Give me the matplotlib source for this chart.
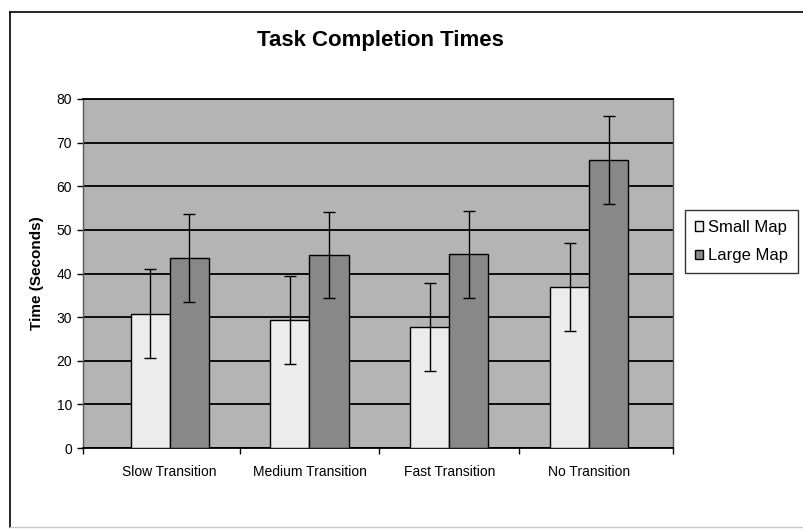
import numpy as np
import matplotlib
matplotlib.use('agg')
import matplotlib.pyplot as plt
from matplotlib.lines import Line2D
from matplotlib.patches import Patch

categories = ['Slow Transition', 'Medium Transition', 'Fast Transition', 'No Transition']
small_map = [30.8, 29.3, 27.8, 36.9]
small_err = [10.2, 10.1, 10.1, 10.1]
large_map = [43.5, 44.3, 44.4, 66.0]
large_err = [10.1, 9.9, 10.0, 10.0]
yticks = [0, 10, 20, 30, 40, 50, 60, 70, 80]

plt.rcParams['font.family'] = ['Liberation Sans', 'DejaVu Sans']

W, H = 804, 529
fig = plt.figure(figsize=(W / 100, H / 100), dpi=100)

def px(x0, y0, x1, y1):
    return [x0 / W, 1 - y1 / H, (x1 - x0) / W, (y1 - y0) / H]

# outer chart border
fig.add_artist(Line2D([10 / W, 10 / W], [1 - 12 / H, 1 - 527 / H], color='black', lw=1.2))
fig.add_artist(Line2D([10 / W, 1.0], [1 - 12 / H, 1 - 12 / H], color='black', lw=1.2))
fig.add_artist(Line2D([10 / W, 1.0], [1 - 527 / H, 1 - 527 / H], color='#c8c8c8', lw=1))

ax = fig.add_axes(px(83, 99, 673, 448))
ax.set_facecolor('#b4b4b4')

x = np.arange(len(categories))
w = 0.28
ax.bar(x - w / 2, small_map, w, color='#ececec', edgecolor='black', lw=1, zorder=3)
ax.bar(x + w / 2, large_map, w, color='#888888', edgecolor='black', lw=1, zorder=3)
ax.errorbar(x - w / 2, small_map, yerr=small_err, fmt='none', ecolor='black',
            elinewidth=1, capsize=4, capthick=1, zorder=4)
ax.errorbar(x + w / 2, large_map, yerr=large_err, fmt='none', ecolor='black',
            elinewidth=1, capsize=4, capthick=1, zorder=4)

ax.set_xlim(-0.62, 3.6)
ax.set_ylim(0, 80)
ax.set_yticks(yticks)
ax.yaxis.grid(True, color='black', lw=1.3, zorder=1)
ax.set_axisbelow(True)

ax.set_xticks(x)
ax.set_xticklabels(categories, fontsize=10)
ax.tick_params(axis='x', length=0, pad=12)
ax.set_xticks([-0.62, 0.5, 1.5, 2.5, 3.6], minor=True)
ax.tick_params(axis='x', which='minor', length=4, width=1, color='black')
ax.tick_params(axis='y', length=4, width=1, labelsize=10, pad=4)

for s in ['top', 'bottom']:
    ax.spines[s].set_color('black')
    ax.spines[s].set_linewidth(1.3)
for s in ['left', 'right']:
    ax.spines[s].set_color('#555555')
    ax.spines[s].set_linewidth(1)

ax.set_ylabel('Time (Seconds)', fontsize=11, fontweight='bold', labelpad=9)

fig.text(380 / W, 1 - 40 / H, 'Task Completion Times', ha='center', va='center',
         fontsize=16, fontweight='bold')

handles = [Patch(facecolor='#ececec', edgecolor='black', lw=1),
           Patch(facecolor='#888888', edgecolor='black', lw=1)]
leg = fig.legend(handles, ['Small Map', 'Large Map'], loc='upper left',
                 bbox_to_anchor=(685 / W, 1 - 210 / H), fontsize=12,
                 frameon=True, fancybox=False, handlelength=0.5, handleheight=0.5,
                 handletextpad=0.3, borderpad=0.6, labelspacing=0.8, borderaxespad=0)
leg.get_frame().set_edgecolor('black')
leg.get_frame().set_linewidth(1)

fig.savefig('out.png', dpi=100)
